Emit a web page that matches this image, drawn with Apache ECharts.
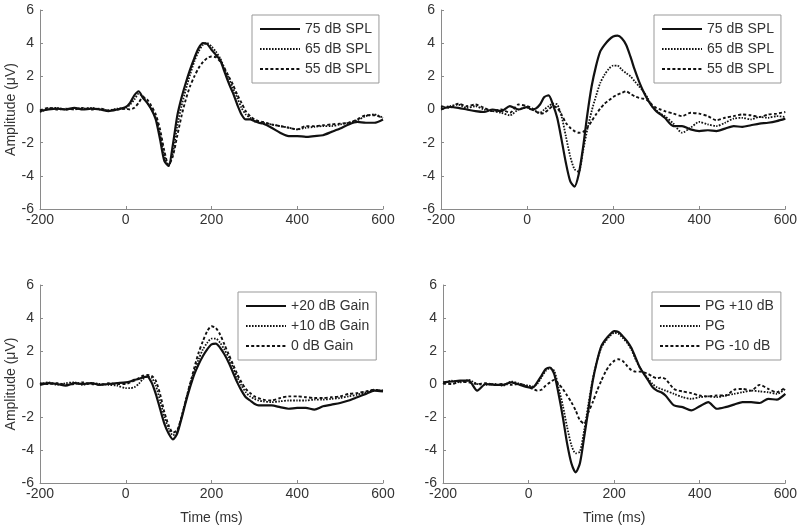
<!DOCTYPE html>
<html>
<head>
<meta charset="utf-8">
<script src="https://cdn.jsdelivr.net/npm/echarts@6/dist/echarts.min.js"></script>
<style>
html,body{margin:0;padding:0;background:#fff;}
#chart{width:800px;height:526px;}
</style>
</head>
<body>
<div id="chart"></div>
<script>
// Time points (ms)
const times = [-200,-180,-160,-140,-120,-100,-80,-60,-40,-20,0,
  10,20,30,40,50,60,70,80,90,100,110,120,130,140,150,160,170,180,190,200,210,220,230,240,250,260,270,280,290,300,310,320,
  340,360,380,400,420,440,460,480,500,520,540,560,580,600];

const xTicks = [-200, 0, 200, 400, 600];
const yTicks = [-6, -4, -2, 0, 2, 4, 6];

// Panel 1 (top-left)
const p1Names = ['75 dB SPL', '65 dB SPL', '55 dB SPL'];
const p1_75 = [-0.1,0.0,0.05,0.0,0.1,0.0,0.05,0.0,-0.1,0.0,0.15,
  0.4,0.85,1.1,0.7,0.4,0.0,-0.6,-1.8,-3.1,-3.4,-2.1,-0.4,0.7,1.6,2.4,3.1,3.7,4.0,3.95,3.6,3.3,3.0,2.3,1.6,1.0,0.3,-0.3,-0.6,-0.6,-0.7,-0.8,-0.85,
  -1.1,-1.4,-1.6,-1.6,-1.65,-1.6,-1.55,-1.35,-1.15,-0.9,-0.75,-0.8,-0.8,-0.6];
const p1_65 = [-0.15,0.05,0.1,0.0,0.05,0.05,0.1,0.0,-0.05,0.05,0.1,
  0.3,0.6,0.95,0.8,0.4,0.0,-0.5,-1.5,-2.8,-3.4,-2.6,-1.0,0.2,1.2,2.1,2.9,3.5,3.9,4.0,3.8,3.5,3.1,2.5,1.9,1.3,0.7,0.1,-0.3,-0.5,-0.7,-0.75,-0.8,
  -0.9,-1.0,-1.1,-1.2,-1.1,-1.05,-1.0,-1.0,-0.9,-0.8,-0.65,-0.4,-0.3,-0.5];
const p1_55 = [-0.05,0.1,0.0,0.05,0.0,0.1,0.0,0.05,-0.05,0.0,0.05,
  0.0,0.1,0.4,0.75,0.6,0.2,-0.3,-1.2,-2.5,-3.35,-2.8,-1.6,-0.4,0.6,1.4,2.0,2.5,2.85,3.1,3.2,3.15,2.9,2.5,2.0,1.5,0.9,0.4,-0.1,-0.4,-0.6,-0.7,-0.75,
  -0.9,-1.0,-1.1,-1.2,-1.0,-1.0,-0.95,-0.9,-0.85,-0.8,-0.6,-0.35,-0.35,-0.5];

// Panel 2 (top-right)
const p2Names = ['75 dB SPL', '65 dB SPL', '55 dB SPL'];
const p2_75 = [0.0,0.15,0.1,0.0,-0.1,-0.15,0.0,-0.1,0.2,0.0,0.15,
  0.0,0.05,0.3,0.75,0.85,0.3,-0.5,-1.8,-3.2,-4.3,-4.65,-3.9,-2.3,-0.3,1.4,2.6,3.5,3.9,4.2,4.4,4.45,4.3,3.9,3.2,2.4,1.7,1.1,0.6,0.2,-0.1,-0.3,-0.5,
  -1.0,-1.0,-1.2,-1.3,-1.25,-1.3,-1.15,-1.0,-1.05,-0.95,-0.85,-0.8,-0.7,-0.55];
const p2_65 = [0.1,0.2,0.3,0.1,0.2,0.0,-0.1,-0.2,-0.35,0.0,0.1,
  0.0,-0.1,-0.2,0.0,0.2,0.35,0.3,-0.4,-1.6,-2.8,-3.6,-3.75,-2.5,-1.2,-0.1,0.8,1.6,2.1,2.45,2.65,2.65,2.4,2.2,2.0,1.7,1.4,1.1,0.7,0.2,-0.05,-0.25,-0.4,
  -0.85,-1.4,-1.1,-0.75,-0.9,-1.0,-0.8,-0.55,-0.5,-0.6,-0.45,-0.5,-0.4,-0.45];
const p2_55 = [0.2,0.1,0.35,0.2,0.3,0.1,-0.1,0.0,-0.2,0.3,0.2,
  0.1,-0.1,-0.25,-0.2,0.0,0.2,0.1,-0.3,-0.8,-1.1,-1.3,-1.4,-1.35,-1.1,-0.7,-0.3,0.05,0.35,0.55,0.75,0.9,1.0,1.1,0.95,0.8,0.7,0.65,0.55,0.3,0.1,0.0,-0.1,
  -0.25,-0.4,-0.2,-0.25,-0.4,-0.65,-0.5,-0.4,-0.3,-0.35,-0.45,-0.3,-0.25,-0.15];

// Panel 3 (bottom-left)
const p3Names = ['+20 dB Gain', '+10 dB Gain', '0 dB Gain'];
const p3_20 = [-0.05,0.05,0.0,-0.1,0.05,0.0,0.05,-0.05,0.0,0.05,0.1,
  0.15,0.25,0.3,0.4,0.45,0.1,-0.6,-1.5,-2.4,-3.0,-3.35,-3.0,-2.1,-1.1,-0.2,0.6,1.2,1.7,2.1,2.4,2.45,2.2,1.8,1.3,0.7,0.1,-0.4,-0.8,-1.0,-1.2,-1.3,-1.3,
  -1.3,-1.4,-1.5,-1.45,-1.45,-1.55,-1.35,-1.25,-1.15,-1.0,-0.8,-0.6,-0.4,-0.45];
const p3_10 = [0.0,0.1,-0.05,0.05,0.1,-0.05,0.05,0.0,-0.05,-0.1,-0.25,
  -0.25,-0.2,0.0,0.3,0.45,0.4,-0.1,-1.0,-2.0,-2.7,-3.1,-2.9,-2.0,-1.0,0.0,0.8,1.5,2.1,2.5,2.75,2.75,2.5,2.1,1.6,1.0,0.4,-0.1,-0.5,-0.75,-0.9,-1.0,-1.05,
  -1.1,-1.05,-1.0,-1.0,-1.0,-0.95,-0.95,-0.9,-0.85,-0.75,-0.65,-0.5,-0.35,-0.4];
const p3_0 = [0.05,0.0,0.05,-0.05,0.0,0.1,0.0,-0.05,0.05,0.0,0.0,
  0.1,0.2,0.35,0.5,0.55,0.5,0.2,-0.6,-1.7,-2.5,-2.95,-2.8,-2.0,-1.0,0.0,1.0,1.9,2.6,3.2,3.5,3.4,3.0,2.4,1.8,1.2,0.6,0.1,-0.3,-0.55,-0.75,-0.85,-0.95,
  -1.0,-0.85,-0.75,-0.75,-0.8,-0.85,-0.85,-0.8,-0.75,-0.6,-0.55,-0.45,-0.35,-0.4];

// Panel 4 (bottom-right)
const p4Names = ['PG +10 dB', 'PG', 'PG -10 dB'];
const p4_p10 = [0.1,0.15,0.2,0.2,-0.4,0.0,-0.05,-0.05,0.1,-0.05,-0.2,
  -0.2,0.1,0.5,0.9,1.0,0.6,-0.6,-2.0,-3.6,-4.8,-5.35,-4.8,-3.2,-1.5,0.2,1.4,2.3,2.7,3.0,3.2,3.15,2.9,2.6,2.2,1.6,1.0,0.6,0.2,-0.2,-0.4,-0.5,-0.7,
  -1.3,-1.4,-1.6,-1.35,-1.1,-1.5,-1.4,-1.25,-1.1,-1.1,-1.15,-0.9,-0.95,-0.6];
const p4_pg = [0.0,0.2,0.1,0.25,0.0,-0.05,0.0,-0.1,0.15,0.0,-0.1,
  -0.15,0.0,0.4,0.8,0.95,0.8,-0.2,-1.3,-2.6,-3.7,-4.2,-4.1,-2.8,-1.2,0.3,1.4,2.2,2.6,2.9,3.1,3.05,2.8,2.5,2.1,1.5,1.0,0.6,0.3,0.0,-0.2,-0.3,-0.4,
  -0.6,-0.8,-0.9,-0.8,-0.75,-0.8,-0.7,-0.6,-0.5,-0.4,-0.45,-0.5,-0.6,-0.3];
const p4_m10 = [0.05,0.0,0.15,0.1,0.0,0.05,-0.05,0.0,-0.05,0.0,-0.2,
  -0.3,-0.4,-0.35,-0.1,0.1,0.25,0.0,-0.3,-0.7,-1.1,-1.6,-2.2,-2.4,-1.7,-1.1,-0.4,0.2,0.75,1.15,1.4,1.5,1.4,1.1,0.85,0.75,0.75,0.7,0.6,0.45,0.35,0.4,0.3,
  -0.3,-0.45,-0.55,-0.7,-0.75,-0.7,-0.7,-0.35,-0.3,-0.4,-0.05,-0.3,-0.5,-0.2];

const FONT = 'Liberation Sans';
const TXT = '#333';
const AX = '#8a8a8a';

const grids = [
  {left: 40, top: 10, width: 343, height: 199},
  {left: 441, top: 10, width: 345, height: 199},
  {left: 40, top: 285, width: 343, height: 198},
  {left: 443, top: 285, width: 343, height: 198}
];

function xAxisCfg(i, withName) {
  return {
    gridIndex: i, type: 'value', min: xTicks[0], max: xTicks[xTicks.length-1], interval: 200,
    name: withName ? 'Time (ms)' : '', nameLocation: 'middle', nameGap: 28,
    nameTextStyle: {fontFamily: FONT, fontSize: 14, color: TXT},
    axisLine: {show: true, onZero: false, lineStyle: {color: AX, width: 1}},
    axisTick: {show: true, inside: true, length: 3, lineStyle: {color: AX}},
    axisLabel: {fontFamily: FONT, fontSize: 14, color: TXT, margin: 4},
    splitLine: {show: false}
  };
}
function yAxisCfg(i, withName) {
  return {
    gridIndex: i, type: 'value', min: yTicks[0], max: yTicks[yTicks.length-1], interval: 2,
    name: withName ? 'Amplitude (\u03bcV)' : '', nameLocation: 'middle', nameGap: 22, nameRotate: 90,
    nameTextStyle: {fontFamily: FONT, fontSize: 14, color: TXT},
    axisLine: {show: true, onZero: false, lineStyle: {color: AX, width: 1}},
    axisTick: {show: true, inside: true, length: 3, lineStyle: {color: AX}},
    axisLabel: {fontFamily: FONT, fontSize: 14, color: TXT, margin: 6},
    splitLine: {show: false}
  };
}

const styles = [
  {type: 'solid', width: 2.2},
  {type: [1.6, 1.4], width: 1.8},
  {type: [3, 2.2], width: 1.9}
];

function mkSeries(i, names, arrs) {
  return arrs.map((vals, k) => ({
    type: 'line', name: names[k], xAxisIndex: i, yAxisIndex: i,
    data: times.map((t, j) => [t, vals[j]]),
    symbol: 'none', showSymbol: false, smooth: 0.25,
    lineStyle: {color: '#111', type: styles[k].type, width: styles[k].width},
    itemStyle: {color: '#111'}
  }));
}

function legendCfg(names, left, top) {
  return {
    data: names, orient: 'vertical', left: left, top: top, align: 'left',
    itemWidth: 40, itemHeight: 14, itemGap: 6, itemTextGap: 4,
    padding: [7, 7, 7, 7],
    itemStyle: {opacity: 0},
    backgroundColor: '#fff', borderColor: '#999', borderWidth: 1, borderRadius: 0,
    textStyle: {fontFamily: FONT, fontSize: 14, color: TXT},
    selectedMode: false
  };
}

const chart = echarts.init(document.getElementById('chart'), null, {renderer: 'canvas'});
chart.setOption({
  animation: false,
  backgroundColor: '#fff',
  grid: grids,
  xAxis: [xAxisCfg(0,false), xAxisCfg(1,false), xAxisCfg(2,true), xAxisCfg(3,true)],
  yAxis: [yAxisCfg(0,true), yAxisCfg(1,false), yAxisCfg(2,true), yAxisCfg(3,false)],
  legend: [
    legendCfg(p1Names, 252, 15),
    legendCfg(p2Names, 654, 15),
    legendCfg(p3Names, 238, 292),
    legendCfg(p4Names, 652, 292)
  ],
  series: [].concat(
    mkSeries(0, p1Names, [p1_75, p1_65, p1_55]),
    mkSeries(1, p2Names, [p2_75, p2_65, p2_55]),
    mkSeries(2, p3Names, [p3_20, p3_10, p3_0]),
    mkSeries(3, p4Names, [p4_p10, p4_pg, p4_m10])
  )
});
</script>
</body>
</html>
